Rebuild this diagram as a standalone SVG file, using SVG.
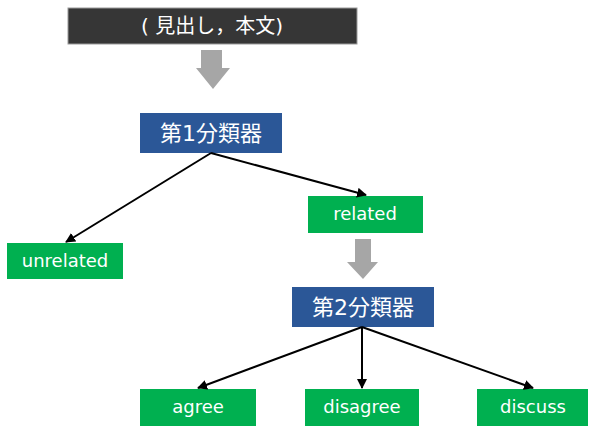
<svg xmlns="http://www.w3.org/2000/svg" width="589" height="427" viewBox="0 0 589 427">
<defs>
<style>
.lbl{font-family:"DejaVu Sans","Noto Sans CJK JP",sans-serif;fill:#fff;text-anchor:middle;dominant-baseline:central}
.green{fill:#00B050}
.blue{fill:#2B5797}
.big{fill:#A6A6A6}
.conn{stroke:#000;stroke-width:2;fill:none;marker-end:url(#ah)}
</style>
<marker id="ah" viewBox="0 0 10 10" refX="9" refY="5" markerWidth="5" markerHeight="5" orient="auto" markerUnits="strokeWidth">
<path d="M0,0 L10,5 L0,10 z" fill="#000"/>
</marker>
</defs>
<rect width="589" height="427" fill="#fff"/>
<g id="input">
<rect x="68" y="8" width="289" height="36" fill="#363636" stroke="#9a9a9a" stroke-width="1"/>
<text class="lbl" x="212" y="26" font-size="20">( 見出し，本文)</text>
</g>
<g id="bigarrow1">
<polygon class="big" points="201,50 222,50 222,68 230,68 213,89 196,68 201,68"/>
</g>
<g id="clf1">
<rect class="blue" x="140" y="113" width="142" height="40"/>
<text class="lbl" x="211" y="133" font-size="22">第1分類器</text>
</g>
<g id="related">
<rect class="green" x="308" y="196" width="115" height="37"/>
<text class="lbl" x="365" y="213" font-size="18">related</text>
</g>
<g id="unrelated">
<rect class="green" x="7" y="243" width="116" height="36"/>
<text class="lbl" x="65" y="260" font-size="18">unrelated</text>
</g>
<g id="bigarrow2">
<polygon class="big" points="355,239 371,239 371,262 378,262 363,279 347,262 355,262"/>
</g>
<g id="clf2">
<rect class="blue" x="292" y="287" width="142" height="40"/>
<text class="lbl" x="363" y="307" font-size="22">第2分類器</text>
</g>
<g id="agree">
<rect class="green" x="140" y="389" width="116" height="37"/>
<text class="lbl" x="198" y="406" font-size="18">agree</text>
</g>
<g id="disagree">
<rect class="green" x="305" y="389" width="114" height="37"/>
<text class="lbl" x="362" y="406" font-size="18">disagree</text>
</g>
<g id="discuss">
<rect class="green" x="477" y="389" width="111" height="37"/>
<text class="lbl" x="533" y="406" font-size="18">discuss</text>
</g>
<g id="connectors">
<line class="conn" x1="211" y1="153" x2="66" y2="242"/>
<line class="conn" x1="211" y1="153" x2="366" y2="195"/>
<line class="conn" x1="362" y1="327" x2="198" y2="388"/>
<line class="conn" x1="362" y1="327" x2="362" y2="388"/>
<line class="conn" x1="362" y1="327" x2="533" y2="388"/>
</g>
</svg>
